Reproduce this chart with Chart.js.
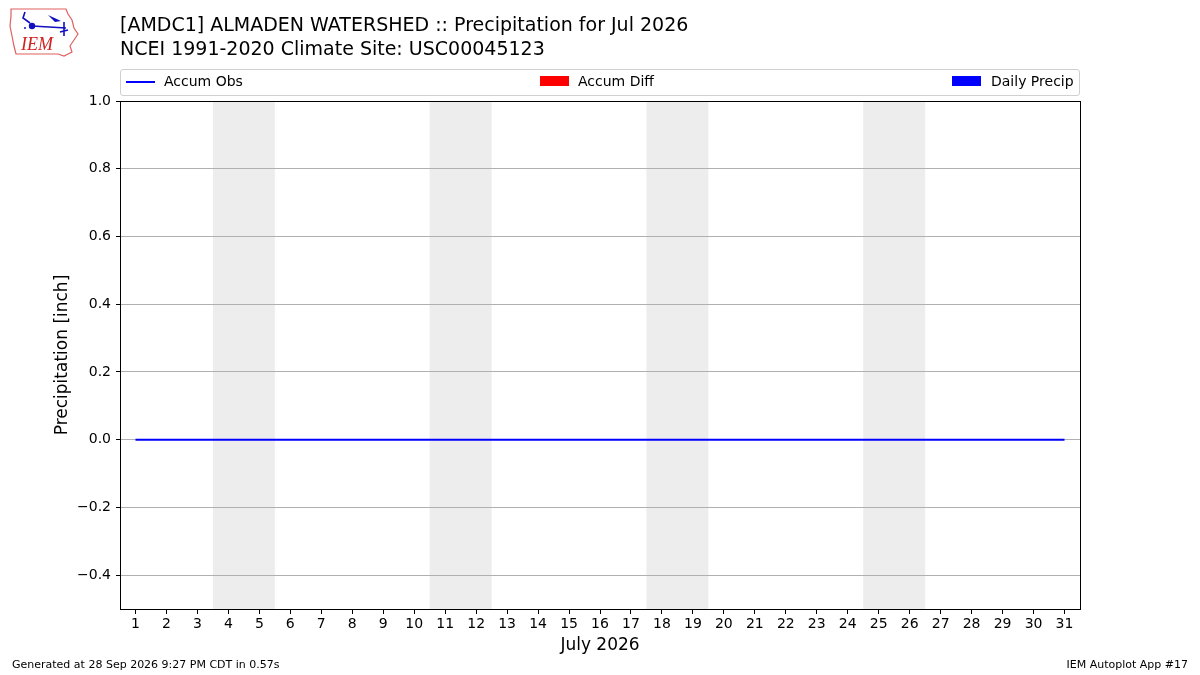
<!DOCTYPE html>
<html>
<head>
<meta charset="utf-8">
<script src="https://cdn.jsdelivr.net/npm/chart.js@4.4.1/dist/chart.umd.min.js"></script>
<style>
  html, body { margin:0; padding:0; background:#fff; }
  #wrap { position:relative; width:1200px; height:675px; font-family:"DejaVu Sans", sans-serif; color:#000; }
  #c { position:absolute; left:0; top:0; }
  .title { position:absolute; left:120px; font-size:19px; white-space:nowrap; line-height:22px; }
  #legend { position:absolute; left:120px; top:69px; width:958px; height:25px; border:1px solid #d0d0d0; border-radius:3px; background:#fff; font-size:14px; }
  .lg { position:absolute; top:-1px; height:25px; line-height:25px; white-space:nowrap; }
  .sw { position:absolute; }
  .foot { position:absolute; top:658px; font-size:11px; white-space:nowrap; }
  #logo { position:absolute; left:8px; top:6px; }
</style>
</head>
<body>
<div id="wrap">
  <canvas id="c" width="1200" height="675"></canvas>
  <svg id="logo" width="72" height="52" viewBox="0 0 72 52">
    <path d="M3 3 L58 3 L60 8 L64 14 L66 22 L70 28 L66 34 L62 40 L64 46 L56 50 L50 48 L8 48 L6 40 L4 30 L2 20 L3 10 Z" fill="none" stroke="#e06060" stroke-width="1.2"/>
    <path d="M17 6 L15 12 L22 17" fill="none" stroke="#1010c0" stroke-width="1.6"/>
    <circle cx="24" cy="20" r="3.2" fill="#1010c0"/>
    <circle cx="17" cy="22" r="1" fill="#1010c0"/>
    <path d="M24 20 L58 22" stroke="#1010c0" stroke-width="1.6"/>
    <path d="M40 9 L53 15 L47 16 Z" fill="#1010c0"/>
    <path d="M56 16 L56 30 M52 26 L60 24" stroke="#1010c0" stroke-width="1.6"/>
    <text x="13" y="44" font-family="Liberation Serif, serif" font-style="italic" font-size="18" fill="#d02020">IEM</text>
  </svg>
  <div class="title" style="top:13px">[AMDC1] ALMADEN WATERSHED :: Precipitation for Jul 2026</div>
  <div class="title" style="top:37px">NCEI 1991-2020 Climate Site: USC00045123</div>
  <div id="legend">
    <div class="sw" style="left:5px;top:11px;width:29px;height:2px;background:#0000ff"></div>
    <div class="lg" style="left:43px">Accum Obs</div>
    <div class="sw" style="left:419px;top:6px;width:29px;height:10px;background:#ff0000"></div>
    <div class="lg" style="left:457px">Accum Diff</div>
    <div class="sw" style="left:831px;top:6px;width:29px;height:10px;background:#0000ff"></div>
    <div class="lg" style="left:870px">Daily Precip</div>
  </div>
  <div class="foot" style="left:12px">Generated at 28 Sep 2026 9:27 PM CDT in 0.57s</div>
  <div class="foot" style="right:12px">IEM Autoplot App #17</div>
</div>
<script>
const days = [1,2,3,4,5,6,7,8,9,10,11,12,13,14,15,16,17,18,19,20,21,22,23,24,25,26,27,28,29,30,31];
const accumObs = [0,0,0,0,0,0,0,0,0,0,0,0,0,0,0,0,0,0,0,0,0,0,0,0,0,0,0,0,0,0,0];
const accumDiff = [0,0,0,0,0,0,0,0,0,0,0,0,0,0,0,0,0,0,0,0,0,0,0,0,0,0,0,0,0,0,0];
const dailyPrecip = [0,0,0,0,0,0,0,0,0,0,0,0,0,0,0,0,0,0,0,0,0,0,0,0,0,0,0,0,0,0,0];
const weekendStarts = [4, 11, 18, 25];
const weekendEnds = [5, 12, 19, 26];
const yTicks = [-0.4, -0.2, 0.0, 0.2, 0.4, 0.6, 0.8, 1.0];
const yMin = -0.5, yMax = 1.0;

const shadePlugin = {
  id: 'shade',
  beforeDraw(chart) {
    const {ctx, chartArea, scales} = chart;
    ctx.save();
    ctx.fillStyle = '#ededed';
    for (let i = 0; i < weekendStarts.length; i++) {
      const x0 = scales.x.getPixelForValue(weekendStarts[i] - 0.5);
      const x1 = scales.x.getPixelForValue(weekendEnds[i] + 0.5);
      ctx.fillRect(x0, chartArea.top, x1 - x0, chartArea.bottom - chartArea.top);
    }
    ctx.restore();
  },
  afterDraw(chart) {
    const {ctx, chartArea} = chart;
    ctx.save();
    ctx.strokeStyle = '#000';
    ctx.lineWidth = 1;
    ctx.strokeRect(chartArea.left + 0.5, chartArea.top + 0.5, chartArea.right - chartArea.left, chartArea.bottom - chartArea.top);
    ctx.restore();
  }
};

const pts = arr => days.map((d, i) => ({x: d, y: arr[i]}));

new Chart(document.getElementById('c'), {
  data: {
    datasets: [
      { type: 'bar', label: 'Accum Diff', data: pts(accumDiff), backgroundColor: '#ff0000', barThickness: 25, borderWidth: 0, inflateAmount: 0, order: 3 },
      { type: 'bar', label: 'Daily Precip', data: pts(dailyPrecip), backgroundColor: '#0000ff', barThickness: 12, borderWidth: 0, inflateAmount: 0, order: 2 },
      { type: 'line', label: 'Accum Obs', data: pts(accumObs), borderColor: '#0000ff', borderWidth: 2, pointRadius: 0, tension: 0, order: 1 }
    ]
  },
  options: {
    responsive: false,
    animation: false,
    devicePixelRatio: 1,
    layout: { padding: { left: 0, right: 120, top: 101, bottom: 0 } },
    plugins: { legend: { display: false }, tooltip: { enabled: false } },
    scales: {
      x: {
        type: 'linear', min: 0.5, max: 31.5, offset: false,
        afterBuildTicks: s => { s.ticks = days.map(v => ({value: v})); },
        ticks: { color: '#000', font: { family: 'DejaVu Sans', size: 14 }, maxRotation: 0, autoSkip: false, padding: 2, callback: v => String(v) },
        grid: { offset: false, drawOnChartArea: false, drawTicks: true, tickLength: 5, tickColor: '#000' },
        border: { display: false },
        title: { display: true, text: 'July 2026', color: '#000', font: { family: 'DejaVu Sans', size: 17 }, padding: { top: 4, bottom: 19 } },
        afterFit: s => { s.height = 66; }
      },
      y: {
        min: yMin, max: yMax,
        afterBuildTicks: s => { s.ticks = yTicks.map(v => ({value: v})); },
        ticks: { color: '#000', font: { family: 'DejaVu Sans', size: 14 }, padding: 5, callback: v => v.toFixed(1).replace('-', '\u2212') },
        grid: { color: '#b0b0b0', lineWidth: 1, drawTicks: true, tickLength: 4, tickColor: '#000' },
        border: { display: false },
        title: { display: true, text: 'Precipitation [inch]', color: '#000', font: { family: 'DejaVu Sans', size: 17 }, padding: { top: 52, bottom: 0 } },
        afterFit: s => { s.width = 120; }
      }
    }
  },
  plugins: [shadePlugin]
});
</script>
</body>
</html>
